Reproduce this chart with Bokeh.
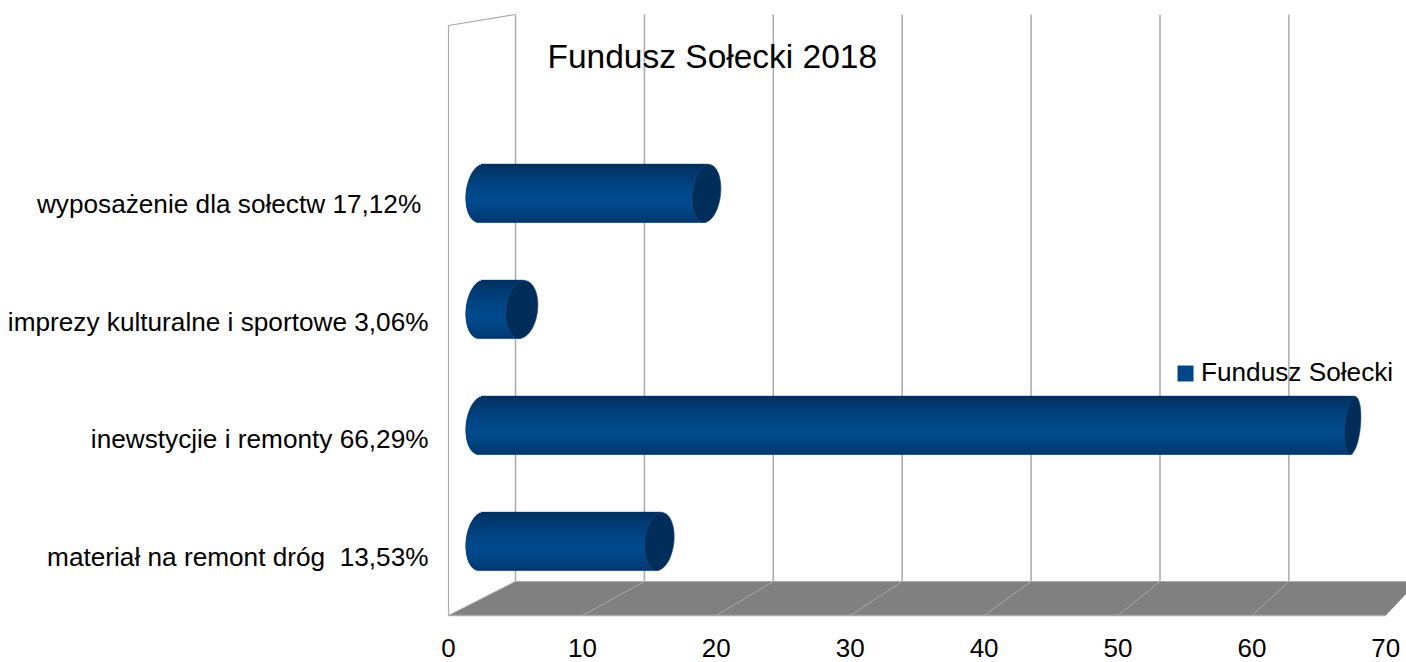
import math
from bokeh.plotting import figure
from bokeh.models import Range1d, FixedTicker, Label, Legend, LegendItem
from bokeh.embed import file_html
from bokeh.resources import INLINE

title_text = "Fundusz Sołecki 2018"
series_name = "Fundusz Sołecki"
categories = ["materiał na remont dróg \u00a013,53%", "inewstycjie i remonty 66,29%",
              "imprezy kulturalne i sportowe 3,06%", "wyposażenie dla sołectw 17,12%\u00a0"]
values = [13.53, 66.29, 3.06, 17.12]
x_ticks = [0, 10, 20, 30, 40, 50, 60, 70]

FONT = "Liberation Sans"
W, H = 1406, 662
LEFT, FLOOR = 448, 615                 # image pixels of the front-plane origin
FRAME_L, FRAME_B = 440, 620            # plot frame, a little outside that origin
XS, YS = 13.39, 117.6                  # pixels per data unit on the front plane
def dx(px): return px / XS
def dy(px): return px / YS
def X(img): return dx(img - LEFT)
def Y(img): return dy(FLOOR - img)

p = figure(width=W, height=H, output_backend="svg", toolbar_location=None,
           x_range=Range1d(X(FRAME_L), X(W)), y_range=Range1d(Y(FRAME_B), Y(0)),
           min_border_left=FRAME_L, min_border_right=0, min_border_top=0,
           min_border_bottom=H - FRAME_B, background_fill_color="white", border_fill_color="white")
p.outline_line_color = None
p.grid.visible = False

xa, ya = p.xaxis[0], p.yaxis[0]
xa.ticker = FixedTicker(ticks=x_ticks)
xa.axis_line_color = None
xa.major_tick_line_color = None
xa.minor_tick_line_color = None
xa.major_label_standoff = 12
xa.major_label_text_font = FONT
xa.major_label_text_font_size = "26px"
xa.major_label_text_color = "#000000"
y_pos = [i + 0.5 for i in range(len(categories))]
ya.ticker = FixedTicker(ticks=y_pos)
ya.major_label_overrides = dict(zip(y_pos, categories))
ya.axis_line_color = None
ya.major_tick_line_color = None
ya.minor_tick_line_color = None
ya.major_label_standoff = 6
ya.major_label_text_font = FONT
ya.major_label_text_font_size = "26.2px"
ya.major_label_text_color = "#000000"

# depth geometry
BACK_SHIFT = dx(67)
BACK_SCALE = 128.9 / 133.9
MID_SHIFT = dx(33)
MID_SCALE = 13.14 / 13.39
def back(v): return BACK_SHIFT + v * BACK_SCALE
def mid(v): return MID_SHIFT + v * MID_SCALE

GRID = "#aaaaaa"
y_floor_back, y_top_back, y_top_front = Y(581), Y(14), Y(25)
inner = x_ticks[:-1]

# floor
p.patch([0, back(0), back(x_ticks[-1]), x_ticks[-1]], [0, y_floor_back, y_floor_back, 0],
        fill_color="#808080", line_color=None)
p.segment(inner, [0] * len(inner), [back(v) for v in inner], [y_floor_back] * len(inner),
          line_color="#a8a8a8", line_width=1)
p.segment([0], [0], [x_ticks[-1]], [0], line_color=GRID, line_width=1.5)
p.segment([back(0)], [y_floor_back], [X(W)], [y_floor_back], line_color=GRID, line_width=1)
# walls
p.segment([back(v) for v in inner], [y_floor_back] * len(inner), [back(v) for v in inner],
          [y_top_back] * len(inner), line_color=GRID, line_width=1.5)
p.line([0, 0, back(0)], [0, y_top_front, y_top_back], line_color=GRID, line_width=1.2)

# bars: flat body comes from the values, shading and caps sit on top
BAR_H = 58
y_bar = [Y(541 - 116 * i) for i in range(len(values))]
TOP_C, MID_C, BOT_C = (0, 48, 96), (0, 74, 140), (0, 56, 112)
def shade(t):
    # t = +1 at top, -1 at bottom; brightest a little below centre
    c = -0.2
    if t >= c:
        f = (t - c) / (1 - c); a, b = MID_C, TOP_C
    else:
        f = (c - t) / (1 + c); a, b = MID_C, BOT_C
    f = f ** 1.6
    return "#%02x%02x%02x" % tuple(round(a[i] + (b[i] - a[i]) * f) for i in range(3))

SHEAR = dx(2.5)
RX0 = dx(15.5)
N = BAR_H
body = p.hbar(y=y_bar, left=[mid(0)] * 4, right=[mid(v) for v in values], height=dy(BAR_H),
              fill_color="#004586", line_color=None)
l, r, b, t_, c = [], [], [], [], []
for yc, v in zip(y_bar, values):
    xs, ys = [], []
    for a in range(72):
        th = 2 * math.pi * a / 72
        st = math.sin(th)
        xs.append(mid(0) + SHEAR * st + RX0 * math.cos(th))
        ys.append(yc + dy(BAR_H / 2) * st)
    p.patch(xs, ys, fill_color="#00407c", line_color=None)
    for k in range(N):
        t0 = -1 + 2 * k / N
        t1 = -1 + 2 * (k + 1) / N
        tm = (t0 + t1) / 2
        s = math.sqrt(max(0, 1 - tm * tm))
        l.append(mid(0) + SHEAR * tm - RX0 * s)
        r.append(mid(v) + SHEAR * tm)
        b.append(yc + t0 * dy(BAR_H / 2))
        t_.append(yc + t1 * dy(BAR_H / 2) + dy(0.6))
        c.append(shade(tm))
p.quad(left=l, right=r, bottom=b, top=t_, fill_color=c, line_color=c, line_width=0.3)
for yc, v in zip(y_bar, values):
    xe = mid(v)
    rx = dx(16 - (LEFT + xe * XS - 522) * 0.00964)
    xs, ys = [], []
    for a in range(72):
        th = 2 * math.pi * a / 72
        st = math.sin(th)
        xs.append(xe + SHEAR * st + rx * math.cos(th))
        ys.append(yc + dy(BAR_H / 2) * st)
    p.patch(xs, ys, fill_color="#012d5a", line_color="#2a4f78", line_width=0.6)

p.add_layout(Label(x=X(547), y=Y(56), text=title_text, text_font=FONT, text_font_size="33.5px",
                   text_color="#000000", text_align="left", text_baseline="alphabetic"))

leg = Legend(items=[LegendItem(label=series_name, renderers=[body])],
             location=(1175 - FRAME_L, FRAME_B - 373 - 15), orientation="vertical",
             background_fill_alpha=0, border_line_color=None, padding=0, margin=0, spacing=0,
             glyph_width=20, glyph_height=20, label_standoff=6, label_text_font=FONT,
             label_text_font_size="26.2px", label_text_color="#000000", label_height=30)
p.add_layout(leg, "center")

open("out.html", "w").write(file_html(p, INLINE))
